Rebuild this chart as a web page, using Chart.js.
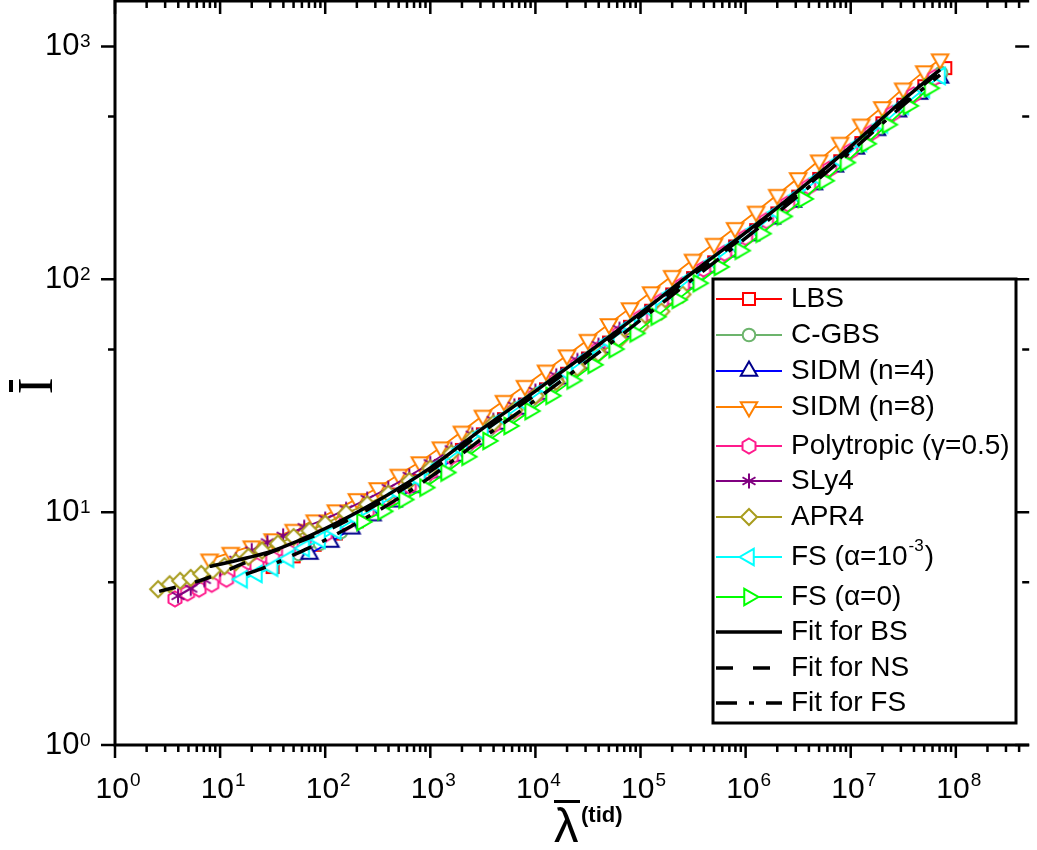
<!DOCTYPE html>
<html>
<head>
<meta charset="utf-8">
<script src="https://cdn.jsdelivr.net/npm/chart.js@4.4.0/dist/chart.umd.min.js"></script>
<style>
  html, body { margin: 0; padding: 0; background: #fff; }
  canvas { display: block; }
</style>
</head>
<body>
<canvas id="chart" width="1037" height="850"></canvas>
<script>
// values (lambda = tidal deformability, I = moment of inertia)
const lbsLambda = [31.6, 50.1, 79.4, 126, 200, 316, 501, 794, 1259, 1995, 3162, 5012, 7943, 1.26e4, 2.0e4, 3.16e4, 5.01e4, 7.94e4, 1.26e5, 2.0e5, 3.16e5, 5.01e5, 7.94e5, 1.26e6, 2.0e6, 3.16e6, 5.01e6, 7.94e6, 1.26e7, 2.0e7, 3.16e7, 5.01e7, 7.94e7];
const lbsI = [5.81, 6.46, 7.24, 8.09, 9.14, 10.35, 11.9, 13.6, 15.8, 18.5, 21.6, 25.1, 29.0, 33.7, 39.3, 45.7, 53.5, 62.5, 73.3, 86.1, 101.2, 118.3, 138.4, 162.6, 191.9, 226.5, 269.8, 321.4, 384.6, 467.7, 562.3, 674.5, 807];

const cgbsLambda = [56.2, 89.1, 141, 224, 355, 562, 891, 1413, 2239, 3548, 5623, 8913, 1.41e4, 2.24e4, 3.55e4, 5.62e4, 8.91e4, 1.41e5, 2.24e5, 3.55e5, 5.62e5, 8.91e5, 1.41e6, 2.24e6, 3.55e6, 5.62e6, 8.91e6, 1.41e7, 2.24e7, 3.55e7, 5.62e7, 7.24e7];
const cgbsI = [6.61, 7.33, 8.22, 9.29, 10.56, 12.13, 13.99, 16.29, 19.19, 22.44, 26.0, 30.1, 35.1, 40.8, 47.5, 55.6, 65.0, 76.3, 89.7, 105.2, 123.0, 143.9, 169.4, 200, 236.6, 281.8, 335.7, 402.7, 487.5, 586.1, 696.6, 769];

const sidm4Lambda = [70.8, 112, 178, 282, 447, 708, 1122, 1778, 2818, 4467, 7079, 1.12e4, 1.78e4, 2.82e4, 4.47e4, 7.08e4, 1.12e5, 1.78e5, 2.82e5, 4.47e5, 7.08e5, 1.12e6, 1.78e6, 2.82e6, 4.47e6, 7.08e6, 1.12e7, 1.78e7, 2.82e7, 4.47e7, 7.08e7];
const sidm4I = [6.61, 7.44, 8.49, 9.67, 11.09, 12.79, 14.81, 17.42, 20.5, 23.9, 27.7, 32.1, 37.4, 43.5, 50.8, 59.4, 69.6, 81.8, 96.0, 112.5, 131.5, 154.2, 182, 214.8, 255.3, 304.1, 363.1, 436.5, 524.8, 624.4, 732.8];

const sidm8Lambda = [7.94, 12.6, 20, 31.6, 50.1, 79.4, 126, 200, 316, 501, 794, 1259, 1995, 3162, 5012, 7943, 1.26e4, 2.0e4, 3.16e4, 5.01e4, 7.94e4, 1.26e5, 2.0e5, 3.16e5, 5.01e5, 7.94e5, 1.26e6, 2.0e6, 3.16e6, 5.01e6, 7.94e6, 1.26e7, 2.0e7, 3.16e7, 5.01e7, 7.08e7];
const sidm8I = [6.27, 6.70, 7.14, 7.66, 8.41, 9.23, 10.2, 11.4, 12.7, 14.5, 16.4, 19.0, 22.2, 26.0, 30.1, 34.9, 40.6, 47.2, 55.0, 64.3, 75.2, 88.1, 103.5, 121.6, 142.2, 166.3, 195.4, 230.7, 272.3, 324.3, 386.4, 462.4, 549.5, 660.7, 783.4, 881];

const polyLambda = [3.72, 4.90, 6.31, 8.32, 11.5, 15.8, 22.4, 31.6, 44.7, 63.1, 100, 158, 251, 398, 631, 1000, 1585, 2512, 3981, 6310, 1e4, 1.58e4, 2.51e4, 3.98e4, 6.31e4, 1e5, 1.58e5, 2.51e5, 3.98e5, 6.31e5, 1e6, 1.58e6, 2.51e6, 3.98e6, 6.31e6, 1e7, 1.58e7, 2.51e7, 3.98e7, 6.31e7];
const polyI = [4.24, 4.49, 4.67, 4.90, 5.15, 5.50, 5.89, 6.31, 6.76, 7.28, 8.04, 9.02, 10.1, 11.4, 12.97, 14.8, 17.3, 20.2, 23.6, 27.3, 31.6, 36.8, 42.9, 50.0, 58.5, 68.4, 80.4, 94.4, 110.7, 129.4, 151.4, 178.6, 210.9, 250.0, 297.9, 354.8, 426.6, 515.2, 619.4, 734.5];

const sly4Lambda = [3.98, 5.25, 7.08, 10, 14.1, 20, 28.2, 39.8, 63.1, 100, 158, 251, 398, 631, 1000, 1585, 2512, 3981, 6310, 1e4, 1.58e4, 2.51e4, 3.98e4, 6.31e4];
const sly4I = [4.37, 4.70, 5.13, 5.69, 6.24, 6.84, 7.41, 7.91, 8.61, 9.33, 10.28, 11.38, 12.68, 14.29, 16.2, 18.6, 21.5, 24.8, 28.6, 33.1, 38.5, 44.8, 52.1, 61.0];

const apr4Lambda = [2.57, 3.31, 4.17, 5.25, 6.61, 8.51, 11.0, 14.1, 18.6, 25.1, 35.5, 50.1, 70.8, 100, 158, 251, 398, 631, 1000, 1585, 2512, 3981, 6310, 1e4, 1.58e4, 2.51e4, 3.98e4, 6.31e4, 1e5, 1.58e5, 2.51e5];
const apr4I = [4.67, 4.90, 5.07, 5.22, 5.43, 5.62, 5.86, 6.10, 6.43, 6.84, 7.33, 7.82, 8.32, 8.91, 9.89, 10.8, 12.0, 13.6, 15.4, 17.9, 20.7, 24.0, 27.5, 31.6, 36.3, 41.7, 47.9, 55.0, 62.8, 72.8, 86.1];

const fs3Lambda = [16.2, 22.4, 31.6, 44.7, 63.1, 89.1, 126, 200, 316, 501, 794, 1259, 1995, 3162, 5012, 7943, 1.26e4, 2.0e4, 3.16e4, 5.01e4, 7.94e4, 1.26e5, 2.0e5, 3.16e5, 5.01e5, 7.94e5, 1.26e6, 2.0e6, 3.16e6, 5.01e6, 7.94e6, 1.26e7, 2.0e7, 3.16e7, 5.01e7, 7.08e7];
const fs3I = [5.15, 5.43, 5.78, 6.31, 7.0, 7.62, 8.32, 9.40, 10.6, 12.1, 13.8, 16.0, 18.7, 21.9, 25.4, 29.4, 34.1, 39.7, 46.2, 54.1, 63.2, 74.1, 87.1, 102.3, 119.7, 140.0, 164.4, 194.1, 229.1, 271.6, 323.6, 385.5, 462.4, 555.9, 656.1, 746.5];

const fs0Lambda = [224, 355, 562, 891, 1413, 2239, 3548, 5623, 8913, 1.41e4, 2.24e4, 3.55e4, 5.62e4, 8.91e4, 1.41e5, 2.24e5, 3.55e5, 5.62e5, 8.91e5, 1.41e6, 2.24e6, 3.55e6, 5.62e6, 8.91e6, 1.41e7, 2.24e7, 3.55e7, 5.62e7];
const fs0I = [9.08, 10.08, 11.32, 12.75, 14.79, 17.30, 20.23, 23.44, 27.16, 31.6, 36.8, 42.9, 50.1, 58.6, 69.1, 81.6, 96.2, 113.0, 132.7, 157.0, 186.2, 221.3, 264.9, 317.0, 381.9, 461.3, 555.3, 661.5];

// fit curves
const fitBsLambda = [7.94, 10, 17.8, 31.6, 100, 316, 1000, 3162, 1e4, 3.16e4, 1e5, 3.16e5, 1e6, 3.16e6, 1e7, 3.16e7, 7.08e7];
const fitBsI = [5.85, 5.97, 6.35, 6.82, 8.51, 11.2, 15.5, 22.9, 33.1, 48.4, 71.6, 107.2, 158.5, 239.9, 371.5, 588.8, 794.3];
const fitNsLambda = [2.63, 3.98, 6.31, 10, 15.8, 31.6, 100, 316, 1000, 3162, 1e4, 3.16e4, 1e5, 3.16e5, 1e6, 3.16e6, 1e7, 3.16e7, 7.08e7];
const fitNsI = [4.57, 4.79, 5.07, 5.46, 5.96, 6.76, 8.28, 10.84, 14.96, 22.13, 31.99, 46.99, 69.5, 104.2, 154.9, 234.4, 363.1, 578, 781.6];
const fitFsLambda = [17.6, 31.6, 41.7, 100, 316, 1000, 3162, 1e4, 3.16e4, 1e5, 3.16e5, 1e6, 3.16e6, 1e7, 3.16e7, 7.08e7];
const fitFsI = [5.41, 5.96, 6.31, 7.59, 10.12, 14.13, 20.8, 30.3, 44.7, 66.8, 100.5, 150.3, 228, 353.2, 559.8, 755];

// axes
const xTickValues = [1, 10, 100, 1e3, 1e4, 1e5, 1e6, 1e7, 1e8];
const xTickExp = ['0', '1', '2', '3', '4', '5', '6', '7', '8'];
const yTickValues = [1, 10, 100, 1000];
const yTickExp = ['0', '1', '2', '3'];
const yMinorValues = [5, 50, 500];

const seriesNames = ['LBS', 'C-GBS', 'SIDM (n=4)', 'SIDM (n=8)', 'Polytropic (γ=0.5)', 'SLy4', 'APR4', 'FS (α=10^-3)', 'FS (α=0)'];
const fitNames = ['Fit for BS', 'Fit for NS', 'Fit for FS'];

const seriesLambda = [lbsLambda, cgbsLambda, sidm4Lambda, sidm8Lambda, polyLambda, sly4Lambda, apr4Lambda, fs3Lambda, fs0Lambda];
const seriesI = [lbsI, cgbsI, sidm4I, sidm8I, polyI, sly4I, apr4I, fs3I, fs0I];
const fitLambda = [fitBsLambda, fitNsLambda, fitFsLambda];
const fitI = [fitBsI, fitNsI, fitFsI];

// look of each series
const looks = [
  { line: '#ff0000', mark: '#ff0000', shape: 'square' },
  { line: '#6cb46c', mark: '#6cb46c', shape: 'circle' },
  { line: '#0000ff', mark: '#00008b', shape: 'up' },
  { line: '#ff8000', mark: '#ff8000', shape: 'down' },
  { line: '#ff1a8c', mark: '#ff1a8c', shape: 'hexagon' },
  { line: '#800080', mark: '#800080', shape: 'asterisk' },
  { line: '#a89c1e', mark: '#a89c1e', shape: 'diamond' },
  { line: '#00ffff', mark: '#00ffff', shape: 'left' },
  { line: '#00ff00', mark: '#00ff00', shape: 'right' }
];
const fitDash = [[], [17, 20], [21, 12, 5, 12]];

const polyAngles = {
  up: [9.5, [-90, 30, 150]],
  down: [9.5, [90, 210, 330]],
  left: [9.5, [180, 300, 60]],
  right: [9.5, [0, 120, 240]],
  hexagon: [7.5, [-90, -30, 30, 90, 150, 210]],
  diamond: [8, [-90, 0, 90, 180]]
};

function marker(shape, color) {
  const c = document.createElement('canvas');
  c.width = 24; c.height = 24;
  const g = c.getContext('2d');
  g.translate(12, 12);
  g.strokeStyle = color;
  g.fillStyle = '#fff';
  g.lineWidth = 2;
  g.beginPath();
  if (shape === 'square') {
    g.rect(-6, -6, 12, 12);
  } else if (shape === 'circle') {
    g.arc(0, 0, 6.3, 0, Math.PI * 2);
  } else if (shape === 'asterisk') {
    [90, 30, 150].forEach(a => {
      const r = a * Math.PI / 180;
      g.moveTo(-7.5 * Math.cos(r), -7.5 * Math.sin(r));
      g.lineTo(7.5 * Math.cos(r), 7.5 * Math.sin(r));
    });
    g.stroke();
    return c;
  } else {
    const [rad, angs] = polyAngles[shape];
    angs.forEach((a, k) => {
      const r = a * Math.PI / 180;
      if (k === 0) g.moveTo(rad * Math.cos(r), rad * Math.sin(r));
      else g.lineTo(rad * Math.cos(r), rad * Math.sin(r));
    });
    g.closePath();
  }
  g.fill();
  g.stroke();
  return c;
}

const markers = looks.map(l => marker(l.shape, l.mark));

const datasets = [];
seriesNames.forEach((name, i) => {
  datasets.push({
    label: name,
    data: seriesLambda[i].map((x, k) => ({ x: x, y: seriesI[i][k] })),
    borderColor: looks[i].line,
    borderWidth: 1.8,
    pointStyle: markers[i],
    pointRadius: 6,
    tension: 0,
    fill: false,
    order: 20 - i
  });
});
fitNames.forEach((name, i) => {
  datasets.push({
    label: name,
    data: fitLambda[i].map((x, k) => ({ x: x, y: fitI[i][k] })),
    borderColor: '#000',
    borderWidth: 3.5,
    borderDash: fitDash[i],
    pointRadius: 0,
    cubicInterpolationMode: 'monotone',
    fill: false,
    order: 3 - i
  });
});

const SANS = '"Liberation Sans", Arial, sans-serif';

// frame, ticks, labels, titles and legend
const framePlugin = {
  id: 'framePlugin',
  afterDraw(chart) {
    const ctx = chart.ctx;
    const xs = chart.scales.x, ys = chart.scales.y, a = chart.chartArea;
    ctx.save();
    ctx.strokeStyle = '#000';
    ctx.fillStyle = '#000';

    ctx.lineWidth = 3;
    ctx.beginPath();
    ctx.moveTo(a.left, 1); ctx.lineTo(a.right, 1);
    ctx.moveTo(a.left, 0); ctx.lineTo(a.left, a.bottom);
    ctx.moveTo(a.left - 1.5, a.bottom); ctx.lineTo(a.right, a.bottom);
    ctx.stroke();

    // x ticks, bottom outward / top inward
    ctx.lineWidth = 2.5;
    ctx.beginPath();
    xTickValues.forEach(v => {
      const px = xs.getPixelForValue(v);
      ctx.moveTo(px, a.bottom); ctx.lineTo(px, a.bottom + 13);
      ctx.moveTo(px, 0); ctx.lineTo(px, 14);
      for (let m = 2; m <= 9; m++) {
        if (v * m > xs.max) break;
        const q = xs.getPixelForValue(v * m);
        ctx.moveTo(q, a.bottom); ctx.lineTo(q, a.bottom + 7);
        ctx.moveTo(q, 0); ctx.lineTo(q, 8);
      }
    });
    // y ticks, left outward / right inward
    yTickValues.forEach(v => {
      const py = ys.getPixelForValue(v);
      ctx.moveTo(a.left - 14, py); ctx.lineTo(a.left, py);
      ctx.moveTo(a.right - 14, py); ctx.lineTo(a.right, py);
    });
    yMinorValues.forEach(v => {
      const py = ys.getPixelForValue(v);
      ctx.moveTo(a.left - 7, py); ctx.lineTo(a.left, py);
      ctx.moveTo(a.right - 7, py); ctx.lineTo(a.right, py);
    });
    ctx.stroke();

    // y tick labels
    yTickValues.forEach((v, i) => {
      const py = ys.getPixelForValue(v);
      ctx.textAlign = 'left';
      ctx.textBaseline = 'middle';
      ctx.font = '31px ' + SANS;
      ctx.fillText('10', 45, py);
      ctx.font = '19px ' + SANS;
      ctx.textBaseline = 'alphabetic';
      ctx.fillText(yTickExp[i], 80, py + 1);
    });

    // x tick labels
    xTickValues.forEach((v, i) => {
      const px = xs.getPixelForValue(v);
      ctx.textAlign = 'left';
      ctx.textBaseline = 'alphabetic';
      ctx.font = '30px ' + SANS;
      const w1 = ctx.measureText('10').width;
      ctx.font = '19px ' + SANS;
      const w2 = ctx.measureText(xTickExp[i]).width;
      const x0 = px - (w1 + w2 + 1) / 2 + 3;
      ctx.font = '30px ' + SANS;
      ctx.fillText('10', x0, 798);
      ctx.font = '19px ' + SANS;
      ctx.fillText(xTickExp[i], x0 + w1 + 1, 786);
    });

    // x title: lambda bar ^(tid)
    ctx.font = '49px ' + SANS;
    ctx.textAlign = 'left';
    ctx.fillText('λ', 554, 842);
    ctx.fillRect(554, 800, 26, 3);
    ctx.font = 'bold 22px ' + SANS;
    ctx.fillText('(tid)', 581, 822);

    // y title: I bar, rotated
    ctx.save();
    ctx.translate(52, 386);
    ctx.rotate(-Math.PI / 2);
    ctx.font = '50px "Liberation Serif", "Times New Roman", serif';
    ctx.textAlign = 'center';
    ctx.fillText('I', 0, 0);
    ctx.restore();
    ctx.fillRect(9, 380, 4, 12);

    // legend
    const rows = [299, 335, 371, 407, 446, 481, 517, 557, 597, 632, 668, 703];
    ctx.fillStyle = '#fff';
    ctx.fillRect(713, 279, 303, 444);
    ctx.lineWidth = 3;
    ctx.strokeStyle = '#000';
    ctx.strokeRect(713, 279, 303, 444);
    ctx.fillStyle = '#000';
    ctx.textBaseline = 'middle';
    ctx.textAlign = 'left';
    seriesNames.forEach((name, i) => {
      const y = rows[i];
      ctx.strokeStyle = looks[i].line;
      ctx.lineWidth = 2;
      ctx.beginPath();
      ctx.moveTo(716, y); ctx.lineTo(782, y);
      ctx.stroke();
      ctx.drawImage(markers[i], 749 - 12, y - 12);
      ctx.font = '28px ' + SANS;
      if (name.indexOf('^') >= 0) {
        const head = name.split('^')[0];
        const sup = name.split('^')[1].replace(')', '');
        ctx.fillText(head, 791, y);
        let x = 791 + ctx.measureText(head).width + 1;
        ctx.font = '17px ' + SANS;
        ctx.fillText(sup, x, y - 11);
        x += ctx.measureText(sup).width + 1;
        ctx.font = '28px ' + SANS;
        ctx.fillText(')', x, y);
      } else {
        ctx.fillText(name, 791, y);
      }
    });
    fitNames.forEach((name, i) => {
      const y = rows[9 + i];
      ctx.strokeStyle = '#000';
      ctx.lineWidth = 3.5;
      ctx.setLineDash(fitDash[i]);
      ctx.beginPath();
      ctx.moveTo(716, y); ctx.lineTo(782, y);
      ctx.stroke();
      ctx.setLineDash([]);
      ctx.font = '28px ' + SANS;
      ctx.fillText(name, 791, y);
    });
    ctx.restore();
  }
};

new Chart(document.getElementById('chart'), {
  type: 'line',
  data: { datasets: datasets },
  options: {
    responsive: false,
    animation: false,
    devicePixelRatio: 1,
    layout: { padding: { left: 115, right: 0, top: 0, bottom: 105 } },
    plugins: { legend: { display: false }, tooltip: { enabled: false } },
    scales: {
      x: { type: 'logarithmic', min: 1, max: 4.99e8, display: false },
      y: { type: 'logarithmic', min: 1, max: 1465, display: false }
    }
  },
  plugins: [framePlugin]
});
</script>
</body>
</html>
